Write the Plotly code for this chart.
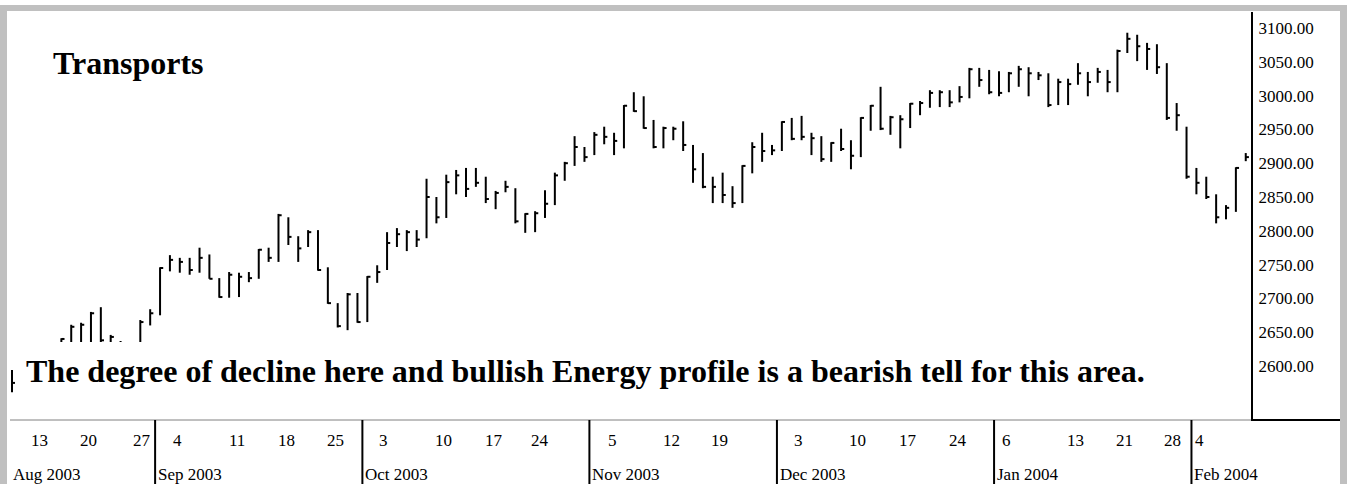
import plotly.graph_objects as go

# ---------------- data ----------------
months = ["Aug 2003", "Sep 2003", "Oct 2003", "Nov 2003", "Dec 2003", "Jan 2004", "Feb 2004"]
trading_days = [
    [11, 12, 13, 14, 15, 18, 19, 20, 21, 22, 25, 26, 27, 28, 29],
    [2, 3, 4, 5, 8, 9, 10, 11, 12, 15, 16, 17, 18, 19, 22, 23, 24, 25, 26, 29, 30],
    [1, 2, 3, 6, 7, 8, 9, 10, 13, 14, 15, 16, 17, 20, 21, 22, 23, 24, 27, 28, 29, 30, 31],
    [3, 4, 5, 6, 7, 10, 11, 12, 13, 14, 17, 18, 19, 20, 21, 24, 25, 26, 28],
    [1, 2, 3, 4, 5, 8, 9, 10, 11, 12, 15, 16, 17, 18, 19, 22, 23, 24, 26, 29, 30, 31],
    [2, 5, 6, 7, 8, 9, 12, 13, 14, 15, 16, 20, 21, 22, 23, 26, 27, 28, 29, 30],
    [2, 3, 4, 5, 6, 9],
]
day_labels = [[13, 20, 27], [4, 11, 18, 25], [3, 10, 17, 24], [5, 12, 19],
              [3, 10, 17, 24], [6, 13, 21, 28], [4]]

high = [
    2594, 2630, 2634, 2630, 2632, 2641, 2661, 2664, 2680, 2687, 2646, 2637, 2633, 2668, 2684,
    2746, 2764, 2760, 2760, 2775, 2765, 2730, 2739, 2738, 2739, 2773, 2775, 2825, 2820, 2792,
    2801, 2801, 2746, 2693, 2708, 2708,
    2733, 2749, 2798, 2804, 2801, 2801, 2877, 2850, 2883, 2890, 2893, 2893, 2880, 2859, 2874,
    2863, 2826, 2829, 2860, 2886, 2902, 2940, 2924,
    2946, 2954, 2945, 2986, 3005, 2999, 2964, 2954, 2954, 2962, 2927, 2915, 2880, 2886, 2866,
    2897, 2931, 2945, 2927,
    2962, 2967, 2970, 2945, 2940, 2931, 2951, 2934, 2968, 2986, 3013, 2970, 2971, 2989, 2992,
    3008, 3008, 3008, 3014, 3041, 3041, 3038,
    3036, 3035, 3044, 3042, 3035, 3033, 3025, 3025, 3048, 3035, 3041, 3038, 3068, 3093, 3090,
    3078, 3076, 3048, 2989, 2954,
    2893, 2880, 2854, 2838, 2894, 2915,
]
low = [
    2561, 2585, 2600, 2595, 2615, 2620, 2630, 2632, 2632, 2632, 2625, 2615, 2612, 2628, 2660,
    2675, 2740, 2738, 2735, 2738, 2729, 2701, 2701, 2702, 2724, 2729, 2754, 2754, 2779, 2754,
    2776, 2741, 2692, 2657, 2653, 2664,
    2665, 2723, 2742, 2776, 2770, 2776, 2789, 2811, 2819, 2854, 2850, 2865, 2841, 2832, 2857,
    2811, 2797, 2798, 2819, 2838, 2874, 2896, 2902,
    2912, 2928, 2912, 2922, 2976, 2951, 2922, 2922, 2934, 2918, 2871, 2863, 2841, 2841, 2834,
    2841, 2885, 2902, 2912,
    2918, 2934, 2934, 2912, 2902, 2902, 2918, 2891, 2909, 2948, 2949, 2942, 2922, 2952, 2971,
    2982, 2983, 2983, 2990, 2996, 3013, 3002,
    2999, 3005, 3013, 2999, 3023, 2983, 2986, 2986, 3016, 2999, 3019, 3005, 3005, 3063, 3051,
    3038, 3032, 2964, 2948, 2877,
    2854, 2847, 2811, 2817, 2828, 2903,
]
close = [
    2575, 2625, 2610, 2625, 2628, 2640, 2658, 2661, 2678, 2638, 2643, 2634, 2628, 2665, 2678,
    2745, 2757, 2754, 2742, 2760, 2729, 2702, 2735, 2732, 2730, 2772, 2760, 2823, 2791, 2774,
    2798, 2742, 2693, 2659, 2706, 2665,
    2732, 2739, 2782, 2795, 2798, 2787, 2850, 2820, 2872, 2882, 2862, 2871, 2847, 2856, 2865,
    2814, 2825, 2826, 2840, 2882, 2900, 2924, 2909,
    2942, 2939, 2933, 2985, 2977, 2952, 2924, 2952, 2951, 2927, 2891, 2865, 2865, 2853, 2841,
    2896, 2924, 2918, 2919,
    2961, 2936, 2939, 2937, 2906, 2930, 2921, 2911, 2967, 2985, 2951, 2968, 2965, 2988, 2989,
    3004, 3005, 2990, 2998, 3039, 3023, 3005,
    3004, 3033, 3039, 3033, 3030, 2986, 3020, 3017, 3033, 3020, 3035, 3020, 3066, 3084, 3073,
    3069, 3042, 2967, 2971, 2880,
    2871, 2850, 2820, 2834, 2893, 2909,
]
price_ticks = [2600, 2650, 2700, 2750, 2800, 2850, 2900, 2950, 3000, 3050, 3100]
title_text = "Transports"
note_text = "The degree of decline here and bullish Energy profile is a bearish tell for this area."

# ---------------- layout geometry ----------------
W, H = 1347, 484
PL, PR, PT, PB = 10, 1251, 12, 420      # plot area in px
BAR0_PX, BAR_STEP = 12, 9.87            # px of first bar, px per trading day
REF_PRICE, REF_PX, PX_PER_PT = 3100, 28, 0.676

x_range = [(PL - BAR0_PX) / BAR_STEP, (PR - BAR0_PX) / BAR_STEP]
y_range = [REF_PRICE - (PB - REF_PX) / PX_PER_PT, REF_PRICE + (REF_PX - PT) / PX_PER_PT]

# horizontal nudge of each day label (in trading days) relative to its bar
label_nudge = [[0.8, 0.8, 1.2], [-0.2, 0.8, 0.8, 0.8], [-0.4, 0.7, 0.8, 0.5],
               [-0.2, 0.8, 0.7], [-0.3, 0.7, 0.8, 0.8], [-1.2, 0.8, 0.7, 0.6], [-1.7]]


def xp(px):
    return (px - PL) / (PR - PL)


def yp(py):
    return (PB - py) / (PB - PT)


# index of every trading day
date_index = {}
month_first = []
k = 0
for m, days in enumerate(trading_days):
    month_first.append(k)
    for d in days:
        date_index[(m, d)] = k
        k += 1

# ---------------- bars (high-low-close) ----------------
TICK_W = 0.32
bx, by = [], []
for i, (h, l, c) in enumerate(zip(high, low, close)):
    bx += [i, i, None, i, i + TICK_W, None]
    by += [l, h, None, c, c, None]

fig = go.Figure()
fig.add_trace(go.Scatter(x=bx, y=by, mode="lines",
                         line=dict(color="black", width=2),
                         hoverinfo="skip", showlegend=False))

AXFONT = dict(family="Liberation Serif", size=17, color="black")

shapes = []
# white box under the note text
shapes.append(dict(type="rect", xref="paper", yref="paper", layer="above",
                   x0=xp(15), x1=xp(1160), y0=yp(412), y1=yp(342),
                   fillcolor="white", line=dict(width=0)))
# bottom axis line
shapes.append(dict(type="line", xref="paper", yref="paper", layer="above",
                   x0=xp(PL), x1=xp(1342), y0=0, y1=0,
                   line=dict(color="#808080", width=1)))
shapes.append(dict(type="line", xref="paper", yref="paper", layer="above",
                   x0=xp(PR), x1=xp(1342), y0=0, y1=0,
                   line=dict(color="black", width=2)))
# month separators
for m in range(1, len(months)):
    xm = month_first[m] - 0.5
    shapes.append(dict(type="line", xref="x", yref="paper", layer="above",
                       x0=xm, x1=xm, y0=0, y1=yp(H),
                       line=dict(color="black", width=2)))
# gray frame
for (x0, y0, x1, y1) in [(0, 5, 1345, 11), (0, 5, 7, H), (1340, 5, W, H)]:
    shapes.append(dict(type="rect", xref="paper", yref="paper", layer="above",
                       x0=xp(x0), x1=xp(x1), y0=yp(y1), y1=yp(y0),
                       fillcolor="#c0c0c0", line=dict(width=0)))

annotations = []
annotations.append(dict(text="<b>" + title_text + "</b>", xref="paper", yref="paper",
                        x=xp(51), y=yp(63), xanchor="left", yanchor="middle",
                        showarrow=False,
                        font=dict(family="Liberation Serif", size=32, color="black")))
annotations.append(dict(text="<b>" + note_text + "</b>", xref="paper", yref="paper",
                        x=xp(24), y=yp(371), xanchor="left", yanchor="middle",
                        showarrow=False,
                        font=dict(family="Liberation Serif", size=32, color="black")))
# day labels
for m, labels in enumerate(day_labels):
    for j, d in enumerate(labels):
        annotations.append(dict(text=str(d), xref="x", yref="paper",
                                x=date_index[(m, d)] + label_nudge[m][j], y=yp(440),
                                xanchor="center", yanchor="middle",
                                showarrow=False, font=AXFONT))
# month labels
for m, name in enumerate(months):
    xm = month_first[m] - 0.5
    annotations.append(dict(text=name, xref="x", yref="paper",
                            x=max(xm, x_range[0]), y=yp(474),
                            xanchor="left", yanchor="middle", xshift=1,
                            showarrow=False, font=AXFONT))

fig.update_layout(
    width=W, height=H,
    margin=dict(l=PL, r=W - PR, t=PT, b=H - PB, pad=0, autoexpand=False),
    paper_bgcolor="white", plot_bgcolor="white",
    showlegend=False,
    shapes=shapes, annotations=annotations,
    xaxis=dict(range=x_range, showgrid=False, zeroline=False, showline=False,
               showticklabels=False, ticks="", fixedrange=True),
    yaxis=dict(range=y_range, side="right", showgrid=False, zeroline=False,
               showline=True, linecolor="black", linewidth=2, ticks="",
               tickvals=price_ticks, tickformat=".2f", tickfont=AXFONT,
               ticklabelstandoff=2, automargin=False, fixedrange=True),
)

fig.write_html(
    "out.html",
    config={"displayModeBar": False, "staticPlot": True},
    post_script="document.body.style.margin='0';document.body.style.overflow='hidden';",
)
